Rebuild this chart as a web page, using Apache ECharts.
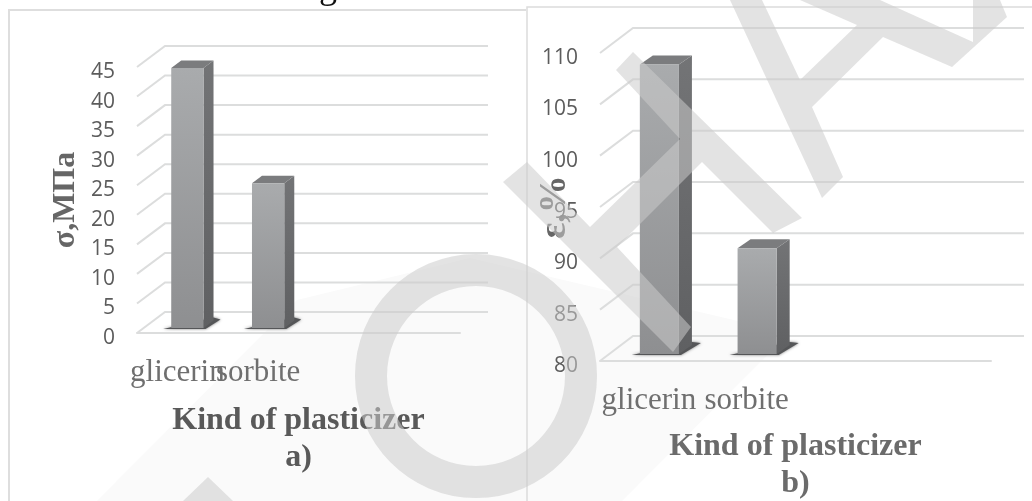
<!DOCTYPE html>
<html>
<head>
<meta charset="utf-8">
<title>chart</title>
<style>
  html, body { margin: 0; padding: 0; background: #fff; }
  #main { width: 1032px; height: 501px; }
</style>
<script src="https://cdn.jsdelivr.net/npm/echarts@6/dist/echarts.min.js"></script>
</head>
<body>
<div id="main"></div>
<script>
var categories = ['glicerin', 'sorbite', '', '']
var strength_values = [44, 24.5]
var strength_ticks = [0, 5, 10, 15, 20, 25, 30, 35, 40, 45]
var elongation_values = [108.2, 90.3]
var elongation_ticks = [80, 85, 90, 95, 100, 105, 110]

var serif = '"Liberation Serif", serif'
var line_color = '#dcdddd'
var wm_color = 'rgba(203,203,203,0.54)'

// fake 3d walls: slanted line from the front plane, then the back line
function wall_item(wall) {
  return function(params, api) {
    var p = api.coord([0, api.value(1)])
    var cs = params.coordSys
    return {
      type: 'polyline',
      silent: true,
      shape: {
        points: [
          [cs.x, p[1]],
          [cs.x + wall.dx, p[1] - wall.dy],
          [cs.x + cs.width + wall.dx, p[1] - wall.dy]
        ]
      },
      style: { fill: null, stroke: line_color, lineWidth: 2 }
    }
  }
}

function bar_item(box) {
  return function(params, api) {
    var top = api.coord([api.value(0), api.value(1)])
    var base = api.coord([api.value(0), box.min])
    var w = api.size([1, 0])[0] * 0.4
    var l = top[0] + box.shift - w / 2
    var r = l + w
    var t = top[1] - box.lift
    var b = base[1] - box.lift
    var dx = box.dx
    var dy = box.dy
    return {
      type: 'group',
      silent: true,
      children: [
        {
          type: 'polygon',
          shape: { points: [[l - 8, b + 1], [r + 2, b + 1], [r + box.floor, b - box.floor * 0.5], [r + dx, b - dy - 3]] },
          style: { fill: '#555658', shadowBlur: 3, shadowColor: '#777' }
        },
        {
          type: 'polygon',
          shape: { points: [[r, t], [r + dx, t - dy], [r + dx, b - dy], [r, b]] },
          style: {
            fill: { type: 'linear', x: 0, y: 0, x2: 0, y2: 1, colorStops: [
              { offset: 0, color: '#737476' }, { offset: 1, color: '#5f6062' }
            ] }
          }
        },
        {
          type: 'polygon',
          shape: { points: [[l, t], [l + dx, t - dy], [r + dx, t - dy], [r, t]] },
          style: { fill: '#7b7c7e' }
        },
        {
          type: 'rect',
          shape: { x: l, y: t, width: w, height: b - t },
          style: {
            fill: { type: 'linear', x: 0, y: 0, x2: 0, y2: 1, colorStops: [
              { offset: 0, color: '#a9abad' }, { offset: 1, color: '#8e8f91' }
            ] }
          }
        }
      ]
    }
  }
}

function x_axis(index, name_color, gap) {
  return {
    type: 'category',
    gridIndex: index,
    data: categories,
    axisTick: { show: false },
    axisLine: { show: true, lineStyle: { color: line_color, width: 2 } },
    axisLabel: { interval: 0, margin: 24, fontFamily: serif, fontSize: 31, color: '#6f6f6f' },
    name: 'Kind of plasticizer\n' + (index ? 'b)' : 'a)'),
    nameLocation: 'middle',
    nameGap: gap,
    nameTextStyle: { fontFamily: serif, fontSize: 32, fontWeight: 'bold', color: name_color, lineHeight: 37 }
  }
}

function y_axis(index, name, min, max, gap, size) {
  return {
    type: 'value',
    gridIndex: index,
    min: min,
    max: max,
    interval: 5,
    splitLine: { show: false },
    axisLine: { show: false },
    axisTick: { show: false },
    // labels sit a little under their tick in the original
    axisLabel: { margin: 22, verticalAlign: 'top', lineHeight: 10, fontFamily: '"Open Sans"', fontSize: 21, color: '#5c5c5c' },
    name: name,
    nameLocation: 'middle',
    nameGap: gap,
    nameMoveOverlap: false,
    nameTextStyle: { fontFamily: serif, fontSize: size, fontWeight: 'bold', color: '#666' }
  }
}

function to_pairs(list) {
  return list.map(function(v, i) { return [i, v] })
}

function tick_pairs(list) {
  return list.map(function(v) { return [0, v] })
}

function custom_series(index, render, data, z) {
  return {
    type: 'custom',
    xAxisIndex: index,
    yAxisIndex: index,
    coordinateSystem: 'cartesian2d',
    clip: false,
    silent: true,
    z: z,
    renderItem: render,
    data: data
  }
}

function wm_shape(points) {
  return { type: 'polygon', z: 100, silent: true, shape: { points: points }, style: { fill: wm_color } }
}

var chart = echarts.init(document.getElementById('main'))
chart.setOption({
  animation: false,
  backgroundColor: '#fff',
  tooltip: { show: false },
  grid: [
    { left: 137, top: 67, width: 323, height: 266, outerBoundsMode: 'none' },
    { left: 600, top: 53, width: 391, height: 308, outerBoundsMode: 'none' }
  ],
  xAxis: [x_axis(0, '#595959', 69), x_axis(1, '#6b6b6b', 67)],
  yAxis: [
    y_axis(0, 'σ,МПа', 0, 45, 55, 32),
    y_axis(1, 'ε,%', 80, 110, 26, 38)
  ],
  series: [
    custom_series(0, wall_item({ dx: 28, dy: 21 }), tick_pairs(strength_ticks), 1),
    custom_series(1, wall_item({ dx: 33, dy: 25 }), tick_pairs(elongation_ticks), 1),
    custom_series(0, bar_item({ min: 0, shift: 10, lift: 5, dx: 10, dy: 7.5, floor: 17 }), to_pairs(strength_values), 3),
    custom_series(1, bar_item({ min: 80, shift: 10.5, lift: 7, dx: 13, dy: 9, floor: 22 }), to_pairs(elongation_values), 3)
  ],
  graphic: [
    // panel borders
    { type: 'polyline', silent: true, shape: { points: [[9, 501], [9, 10], [526, 10]] }, style: { fill: null, stroke: '#dedede', lineWidth: 2 } },
    { type: 'polyline', silent: true, shape: { points: [[527, 501], [527, 7], [1032, 7]] }, style: { fill: null, stroke: '#dcdcdc', lineWidth: 1.5 } },
    // clipped line of text above the panels
    { type: 'text', silent: true, x: 328, y: 7, style: { text: 'g', fontFamily: serif, fontSize: 36, fill: '#111', textAlign: 'center', textVerticalAlign: 'bottom' } },
    // watermark
    { type: 'polygon', silent: true, z: -1, shape: { points: [[97, 501], [297, 300], [470, 258], [789, 333], [622, 501]] }, style: { fill: '#fafafa' } },
    wm_shape([[527, 162], [590, 227], [680, 139], [616, 70], [633, 52], [802, 218], [773, 233], [702, 162], [617, 247], [691, 327], [673, 352], [503, 182]]),
    wm_shape([[730, 0], [762, 0], [800, 80], [857, 25], [800, 0], [880, 0], [973, 42], [973, 0], [1000, 0], [1007, 17], [952, 67], [883, 37], [812, 107], [843, 177], [822, 198]]),
    wm_shape([[208, 477], [233, 501], [183, 501]]),
    {
      type: 'ellipse',
      silent: true,
      z: 100,
      shape: { cx: 476, cy: 376, rx: 105, ry: 106 },
      style: { fill: null, stroke: wm_color, lineWidth: 32 }
    }
  ]
})
</script>
</body>
</html>
